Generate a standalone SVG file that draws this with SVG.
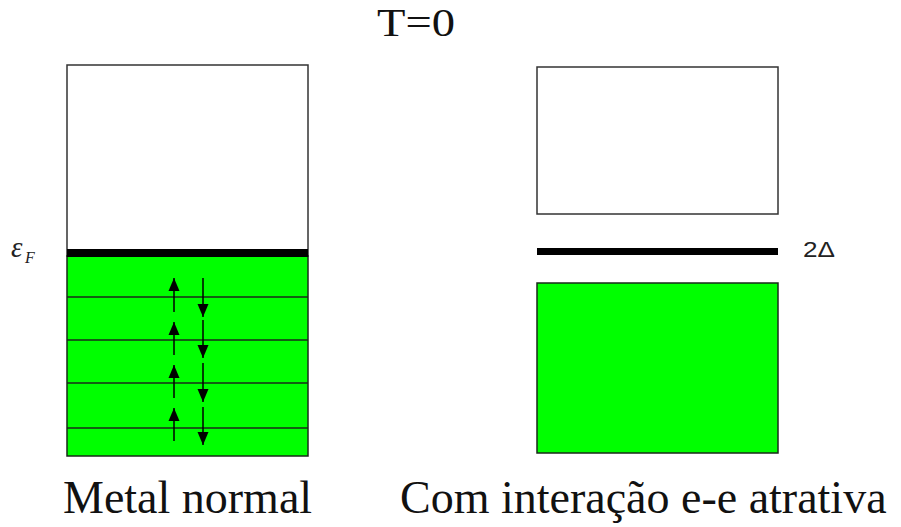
<svg xmlns="http://www.w3.org/2000/svg" width="901" height="527" viewBox="0 0 901 527">
  <style>
    .box { fill: #ffffff; stroke: #333333; stroke-width: 1.5; }
    .band { fill: #00ff00; stroke: #1a2a1a; stroke-width: 1.5; }
    .level { fill: #000000; }
    .sub { stroke: #1a2a1a; stroke-width: 1.5; }
    .spin { stroke: #000000; stroke-width: 1.5; fill: none; marker-end: url(#head); }
  </style>
  <defs>
    <marker id="head" markerUnits="userSpaceOnUse" markerWidth="14" markerHeight="12" viewBox="0 0 14 12" refX="13" refY="6" orient="auto">
      <path d="M0,0.5 L13,6 L0,11.5 Z" fill="#000000"/>
    </marker>
  </defs>

  <rect width="901" height="527" fill="#ffffff"/>

  <text x="377" y="36" font-family="Liberation Serif, DejaVu Serif, serif" font-size="40" fill="#111111" textLength="78" lengthAdjust="spacingAndGlyphs">T=0</text>

  <!-- normal metal: empty states above, filled Fermi sea below -->
  <g id="metal-normal">
    <rect class="box" x="67" y="65" width="241" height="191"/>
    <rect class="band" x="67" y="256" width="241" height="200"/>
    <line class="sub" x1="67" y1="297" x2="308" y2="297"/>
    <line class="sub" x1="67" y1="340" x2="308" y2="340"/>
    <line class="sub" x1="67" y1="383" x2="308" y2="383"/>
    <line class="sub" x1="67" y1="428" x2="308" y2="428"/>
    <rect class="level" x="67" y="249" width="241" height="8"/>
    <text x="11" y="257" font-family="Liberation Serif, DejaVu Serif, serif" font-size="29" font-style="italic" fill="#222222">ε</text>
    <text x="25" y="263" font-family="Liberation Serif, DejaVu Serif, serif" font-size="16" font-style="italic" fill="#222222">F</text>
    <text x="63" y="513" font-family="Liberation Serif, DejaVu Serif, serif" font-size="46" fill="#111111">Metal normal</text>
  </g>

  <!-- superconducting state: gap opened around the Fermi level -->
  <g id="com-interacao">
    <rect class="box" x="537" y="67" width="241" height="147"/>
    <rect class="level" x="537" y="248" width="241" height="7"/>
    <rect class="band" x="537" y="283" width="241" height="170"/>
    <text x="803" y="257" font-family="Liberation Sans, Arial, sans-serif" font-size="22" fill="#222222" textLength="32" lengthAdjust="spacingAndGlyphs">2Δ</text>
    <text x="400" y="513" font-family="Liberation Serif, DejaVu Serif, serif" font-size="46" fill="#111111">Com interação e-e atrativa</text>
  </g>

  <!-- spin arrows for paired electrons -->
  <g id="spins">
    <line class="spin" x1="174" y1="312" x2="174" y2="278"/>
    <line class="spin" x1="174" y1="355" x2="174" y2="322"/>
    <line class="spin" x1="174" y1="398" x2="174" y2="365"/>
    <line class="spin" x1="174" y1="441" x2="174" y2="408"/>
    <line class="spin" x1="203" y1="278" x2="203" y2="317"/>
    <line class="spin" x1="203" y1="320" x2="203" y2="358"/>
    <line class="spin" x1="203" y1="363" x2="203" y2="402"/>
    <line class="spin" x1="203" y1="407" x2="203" y2="445"/>
  </g>
</svg>
